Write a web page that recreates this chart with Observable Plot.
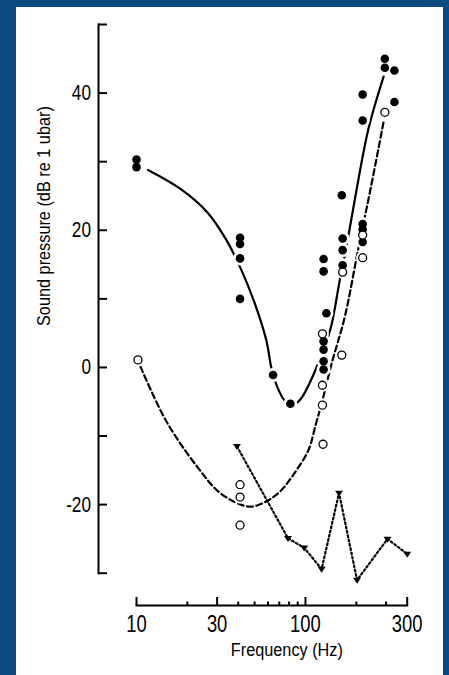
<!DOCTYPE html>
<html>
<head>
<meta charset="utf-8">
<script src="https://cdn.jsdelivr.net/npm/d3@7"></script>
<script src="https://cdn.jsdelivr.net/npm/@observablehq/plot@0.6"></script>
<style>
  html, body { margin: 0; padding: 0; }
  body { width: 449px; height: 675px; overflow: hidden; position: relative; background: #0a4a7f; }
  #panel { position: absolute; left: 16px; top: 7px; width: 427px; height: 668px; background: #ffffff; }
  #chart { position: absolute; left: 0; top: 0; }
  #chart svg { background: transparent !important; }
</style>
</head>
<body>
<div id="panel"></div>
<div id="chart"></div>
<script>
// ---- Data ----
// filled circles
const filledFreq = [10, 10, 41, 41, 41, 41, 64.3, 81.4, 128, 128, 128, 128, 128, 128, 133, 164, 166, 166, 166, 218, 218, 218, 218, 218, 295, 295, 336, 336];
const filledSpl  = [30.3, 29.2, 18.9, 18.0, 15.9, 10.0, -1.1, -5.3, 15.8, 14.0, 3.8, 2.6, 0.9, -0.3, 7.9, 25.1, 18.8, 17.1, 14.9, 39.8, 36.0, 20.9, 20.1, 18.3, 45.0, 43.7, 43.3, 38.7];
// open circles
const openFreq = [10.2, 41, 41, 41, 127, 126, 126, 126, 164, 166, 218, 218, 295];
const openSpl  = [1.1, -17.1, -18.9, -23.0, -11.2, 4.9, -2.6, -5.5, 1.8, 13.9, 19.3, 16.0, 37.2];
// triangles (dotted series)
const triFreq = [39.3, 78.8, 98.3, 124.6, 158, 202, 306, 400];
const triSpl  = [-11.5, -24.9, -26.3, -29.4, -18.3, -31.0, -25.0, -27.2];
// solid fitted curve
const solidFreq = [11.7, 18.3, 26.3, 33.8, 41.6, 50, 58.6, 64.3, 75, 81.4, 92.3, 124.6, 141, 159.8, 178, 197.6, 236, 290];
const solidSpl  = [28.8, 26.0, 22.6, 18.7, 14.3, 9.4, 4.0, -1.1, -4.8, -5.5, -4.8, 1.8, 5.7, 12.8, 18.7, 25.0, 34.8, 42.4];
// dashed fitted curve
const dashFreq = [10.56, 14.9, 22.9, 31.6, 46.6, 60, 72, 82.8, 103.9, 114.8, 124.6, 143, 171, 205, 244, 290];
const dashSpl  = [0.1, -7.7, -14.5, -18.4, -20.3, -19.4, -17.9, -16.0, -12.1, -8.4, -5.25, 0.6, 7.4, 17.2, 26.3, 35.8];
// axes
const yTicks = [-30, -20, -10, 0, 10, 20, 30, 40, 50];
const yLabelValues = [-20, 0, 20, 40];
const yLabelTexts = ["-20", "0", "20", "40"];
const xMajor = [10, 30, 100, 400];
const xMinor = [20, 40, 50, 60, 70, 80, 90, 200, 300];
const xLabelTexts = ["10", "30", "100", "300"];
const xTitle = "Frequency (Hz)";
const yTitle = "Sound pressure (dB re 1 ubar)";

const zip = (xs, ys) => xs.map((x, i) => ({f: x, s: ys[i]}));
const filled = zip(filledFreq, filledSpl);
const open = zip(openFreq, openSpl);
const tri = zip(triFreq, triSpl);
const solid = zip(solidFreq, solidSpl);
const dashed = zip(dashFreq, dashSpl);
const yLab = new Map(yLabelValues.map((v, i) => [v, yLabelTexts[i]]));
const xLab = new Map(xMajor.map((v, i) => [v, xLabelTexts[i]]));

const FONT = "'Liberation Sans', Arial, sans-serif";

const triDown = {
  draw(ctx, size) {
    const w = Math.sqrt(size) * 0.62;
    const h = w * 0.95;
    ctx.moveTo(-w, -h * 0.6);
    ctx.lineTo(w, -h * 0.6);
    ctx.lineTo(0, h);
    ctx.closePath();
  }
};

const chart = Plot.plot({
  width: 449,
  height: 675,
  marginLeft: 98,
  marginRight: 42.3,
  marginTop: 24,
  marginBottom: 70,
  style: {fontFamily: FONT, background: "transparent", color: "#000"},
  x: {type: "log", domain: [10, 400], insetLeft: 38},
  y: {domain: [-30, 50], insetBottom: 32.3},
  marks: [
    // axis lines
    Plot.frame({anchor: "left", insetBottom: 32.3, strokeWidth: 2, stroke: "#000"}),
    Plot.frame({anchor: "bottom", insetLeft: 38, strokeWidth: 2, stroke: "#000"}),
    // y ticks pointing inward
    Plot.axisY({ticks: yTicks, tickSize: 9, dx: 9, strokeWidth: 2, tickFormat: () => "", label: null}),
    Plot.axisY({ticks: yLabelValues, tickSize: 0, tickPadding: 7.5, fontSize: 21.5, tickFormat: d => yLab.get(d), label: null, className: "sq"}),
    // x ticks pointing inward
    Plot.axisX({ticks: xMajor, tickSize: 8, dy: -8, strokeWidth: 2, tickFormat: () => "", label: null}),
    Plot.axisX({ticks: xMinor, tickSize: 3.5, dy: -3.5, strokeWidth: 2, tickFormat: () => "", label: null}),
    Plot.axisX({ticks: xMajor, tickSize: 0, tickPadding: 10, fontSize: 23, tickFormat: d => xLab.get(d), label: null, className: "sq"}),
    // axis titles
    Plot.text([xTitle], {frameAnchor: "bottom", dx: 34, dy: 50, fontSize: 17.5, fill: "#000", className: "sq2"}),
    Plot.text([yTitle], {frameAnchor: "left", dx: -54, dy: 11, rotate: -90, fontSize: 17.5, fill: "#000", className: "sq2"}),
    // fitted curves
    Plot.line(solid, {x: "f", y: "s", curve: "catmull-rom", stroke: "#000", strokeWidth: 2.2}),
    Plot.line(dashed, {x: "f", y: "s", curve: "catmull-rom", stroke: "#000", strokeWidth: 2.2, strokeDasharray: "6,3.5"}),
    Plot.line(tri, {x: "f", y: "s", stroke: "#000", strokeWidth: 2.2, strokeDasharray: "1.8,2.6"}),
    // white halos around circles
    Plot.dot(filled, {x: "f", y: "s", r: 7, fill: "#fff", stroke: "none"}),
    Plot.dot(open, {x: "f", y: "s", r: 6.5, fill: "#fff", stroke: "none"}),
    // points
    Plot.dot(filled, {x: "f", y: "s", r: 4.3, fill: "#000", stroke: "none"}),
    Plot.dot(open, {x: "f", y: "s", r: 4, fill: "#fff", stroke: "#000", strokeWidth: 1.3}),
    Plot.dot(tri, {x: "f", y: "s", symbol: triDown, r: 3.6, fill: "#000", stroke: "none"})
  ]
});
document.getElementById("chart").appendChild(chart);

// condensed look: squeeze glyphs horizontally while keeping real text
function squeeze(sel, k) {
  chart.querySelectorAll(sel).forEach(t => {
    const L = t.getComputedTextLength();
    if (L > 0) {
      t.setAttribute("textLength", (L * k).toFixed(2));
      t.setAttribute("lengthAdjust", "spacingAndGlyphs");
    }
  });
}
squeeze(".sq text", 0.8);
squeeze(".sq2 text", 0.93);
</script>
</body>
</html>
